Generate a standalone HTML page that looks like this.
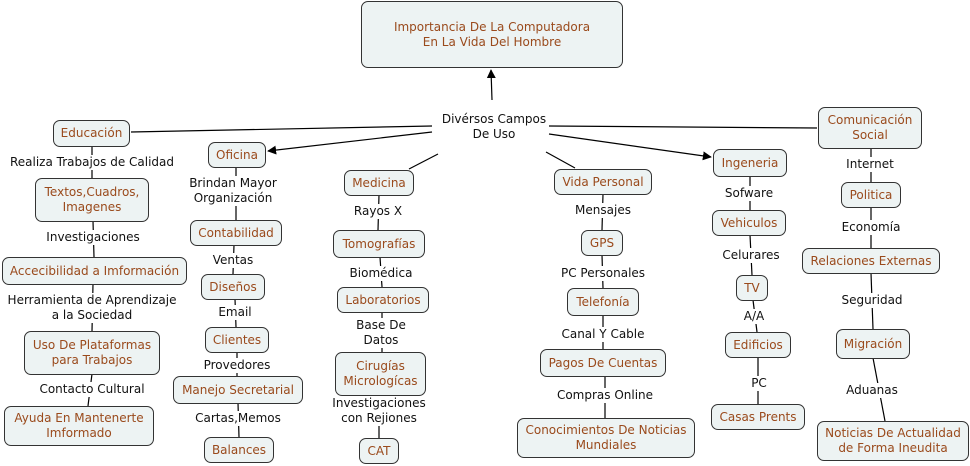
<!DOCTYPE html>
<html><head><meta charset="utf-8"><style>
body{margin:0;width:970px;height:466px;background:#fff;position:relative;overflow:hidden;font-family:"DejaVu Sans","Liberation Sans",sans-serif;font-size:12px}
svg{position:absolute;left:0;top:0}
.n{position:absolute;box-sizing:border-box;border:1px solid #333;border-radius:7px;background:#edf3f3;color:#9a4a1c;display:flex;align-items:center;justify-content:center;text-align:center;line-height:15px;white-space:nowrap}
.l{position:absolute;transform:translateX(-50%);background:#fff;color:#111;text-align:center;line-height:15px;white-space:nowrap;padding:0 1px}
</style></head><body>
<svg width="970" height="466">
<defs><marker id="a" viewBox="0 0 10 10" refX="9" refY="5" markerWidth="9" markerHeight="9" orient="auto" markerUnits="userSpaceOnUse"><path d="M0,0L10,5L0,10z" fill="#000"/></marker></defs>
<g stroke="#000" stroke-width="1.2" fill="none">
<line x1="492" y1="100" x2="491" y2="70" marker-end="url(#a)"/>
<line x1="432" y1="126" x2="131" y2="132"/>
<line x1="432" y1="132" x2="268" y2="151" marker-end="url(#a)"/>
<line x1="438" y1="154" x2="409" y2="169"/>
<line x1="546" y1="152" x2="575" y2="168"/>
<line x1="549" y1="134" x2="711" y2="157" marker-end="url(#a)"/>
<line x1="549" y1="126" x2="817" y2="128"/>
<line x1="92" y1="146" x2="92" y2="178"/>
<line x1="93" y1="221" x2="94" y2="257"/>
<line x1="93" y1="284" x2="92" y2="331"/>
<line x1="92" y1="374" x2="88" y2="406"/>
<line x1="236" y1="167" x2="236" y2="220"/>
<line x1="234" y1="245" x2="233" y2="274"/>
<line x1="235" y1="299" x2="236" y2="327"/>
<line x1="237" y1="352" x2="237" y2="376"/>
<line x1="238" y1="403" x2="239" y2="437"/>
<line x1="379" y1="195" x2="378" y2="230"/>
<line x1="380" y1="257" x2="382" y2="287"/>
<line x1="382" y1="312" x2="382" y2="352"/>
<line x1="379" y1="395" x2="379" y2="438"/>
<line x1="603" y1="194" x2="602" y2="230"/>
<line x1="602" y1="255" x2="603" y2="288"/>
<line x1="603" y1="315" x2="603" y2="349"/>
<line x1="605" y1="376" x2="605" y2="418"/>
<line x1="750" y1="176" x2="750" y2="210"/>
<line x1="750" y1="235" x2="752" y2="275"/>
<line x1="753" y1="300" x2="757" y2="332"/>
<line x1="758" y1="357" x2="758" y2="404"/>
<line x1="871" y1="148" x2="871" y2="182"/>
<line x1="871" y1="207" x2="871" y2="248"/>
<line x1="871" y1="273" x2="873" y2="329"/>
<line x1="873" y1="358" x2="885" y2="421"/>
</g></svg>

<div class="n" style="left:361px;top:1px;width:262px;height:67px">Importancia De La Computadora<br>En La Vida Del Hombre</div>
<div class="l" style="left:494px;top:112px">Divérsos Campos<br>De Uso</div>

<div class="n" style="left:53px;top:120px;width:77px;height:27px">Educación</div>
<div class="n" style="left:35px;top:178px;width:114px;height:44px">Textos,Cuadros,<br>Imagenes</div>
<div class="n" style="left:2px;top:257px;width:185px;height:28px">Accecibilidad a Imformación</div>
<div class="n" style="left:24px;top:331px;width:136px;height:44px">Uso De Plataformas<br>para Trabajos</div>
<div class="n" style="left:4px;top:406px;width:150px;height:40px">Ayuda En Mantenerte<br>Imformado</div>
<div class="l" style="left:92px;top:155px">Realiza Trabajos de Calidad</div>
<div class="l" style="left:93px;top:230px">Investigaciones</div>
<div class="l" style="left:92px;top:293px">Herramienta de Aprendizaje<br>a la Sociedad</div>
<div class="l" style="left:92px;top:382px">Contacto Cultural</div>

<div class="n" style="left:208px;top:142px;width:58px;height:26px">Oficina</div>
<div class="n" style="left:190px;top:220px;width:92px;height:26px">Contabilidad</div>
<div class="n" style="left:201px;top:274px;width:64px;height:26px">Diseños</div>
<div class="n" style="left:205px;top:327px;width:64px;height:26px">Clientes</div>
<div class="n" style="left:173px;top:376px;width:130px;height:28px">Manejo Secretarial</div>
<div class="n" style="left:204px;top:437px;width:70px;height:26px">Balances</div>
<div class="l" style="left:233px;top:176px">Brindan Mayor<br>Organización</div>
<div class="l" style="left:233px;top:253px">Ventas</div>
<div class="l" style="left:235px;top:305px">Email</div>
<div class="l" style="left:237px;top:358px">Provedores</div>
<div class="l" style="left:238px;top:411px">Cartas,Memos</div>

<div class="n" style="left:344px;top:170px;width:70px;height:26px">Medicina</div>
<div class="n" style="left:333px;top:230px;width:92px;height:28px">Tomografías</div>
<div class="n" style="left:337px;top:287px;width:92px;height:26px">Laboratorios</div>
<div class="n" style="left:335px;top:352px;width:91px;height:44px">Cirugías<br>Micrologícas</div>
<div class="n" style="left:359px;top:438px;width:40px;height:26px">CAT</div>
<div class="l" style="left:378px;top:204px">Rayos X</div>
<div class="l" style="left:381px;top:266px">Biomédica</div>
<div class="l" style="left:381px;top:318px">Base De<br>Datos</div>
<div class="l" style="left:379px;top:396px">Investigaciones<br>con Rejiones</div>

<div class="n" style="left:554px;top:169px;width:98px;height:26px">Vida Personal</div>
<div class="n" style="left:581px;top:230px;width:42px;height:26px">GPS</div>
<div class="n" style="left:567px;top:288px;width:72px;height:28px">Telefonía</div>
<div class="n" style="left:540px;top:349px;width:126px;height:28px">Pagos De Cuentas</div>
<div class="n" style="left:517px;top:418px;width:178px;height:40px">Conocimientos De Noticias<br>Mundiales</div>
<div class="l" style="left:603px;top:203px">Mensajes</div>
<div class="l" style="left:603px;top:266px">PC Personales</div>
<div class="l" style="left:603px;top:327px">Canal Y Cable</div>
<div class="l" style="left:605px;top:388px">Compras Online</div>

<div class="n" style="left:713px;top:149px;width:74px;height:28px">Ingeneria</div>
<div class="n" style="left:712px;top:210px;width:74px;height:26px">Vehiculos</div>
<div class="n" style="left:736px;top:275px;width:32px;height:26px">TV</div>
<div class="n" style="left:725px;top:332px;width:66px;height:26px">Edificios</div>
<div class="n" style="left:711px;top:404px;width:94px;height:26px">Casas Prents</div>
<div class="l" style="left:749px;top:186px">Sofware</div>
<div class="l" style="left:751px;top:248px">Celurares</div>
<div class="l" style="left:754px;top:309px">A/A</div>
<div class="l" style="left:759px;top:376px">PC</div>

<div class="n" style="left:818px;top:107px;width:104px;height:42px">Comunicación<br>Social</div>
<div class="n" style="left:841px;top:182px;width:60px;height:26px">Politica</div>
<div class="n" style="left:802px;top:248px;width:138px;height:26px">Relaciones Externas</div>
<div class="n" style="left:836px;top:329px;width:74px;height:30px">Migración</div>
<div class="n" style="left:817px;top:421px;width:152px;height:40px">Noticias De Actualidad<br>de Forma Ineudita</div>
<div class="l" style="left:870px;top:157px">Internet</div>
<div class="l" style="left:871px;top:220px">Economía</div>
<div class="l" style="left:872px;top:293px">Seguridad</div>
<div class="l" style="left:872px;top:383px">Aduanas</div>
</body></html>
